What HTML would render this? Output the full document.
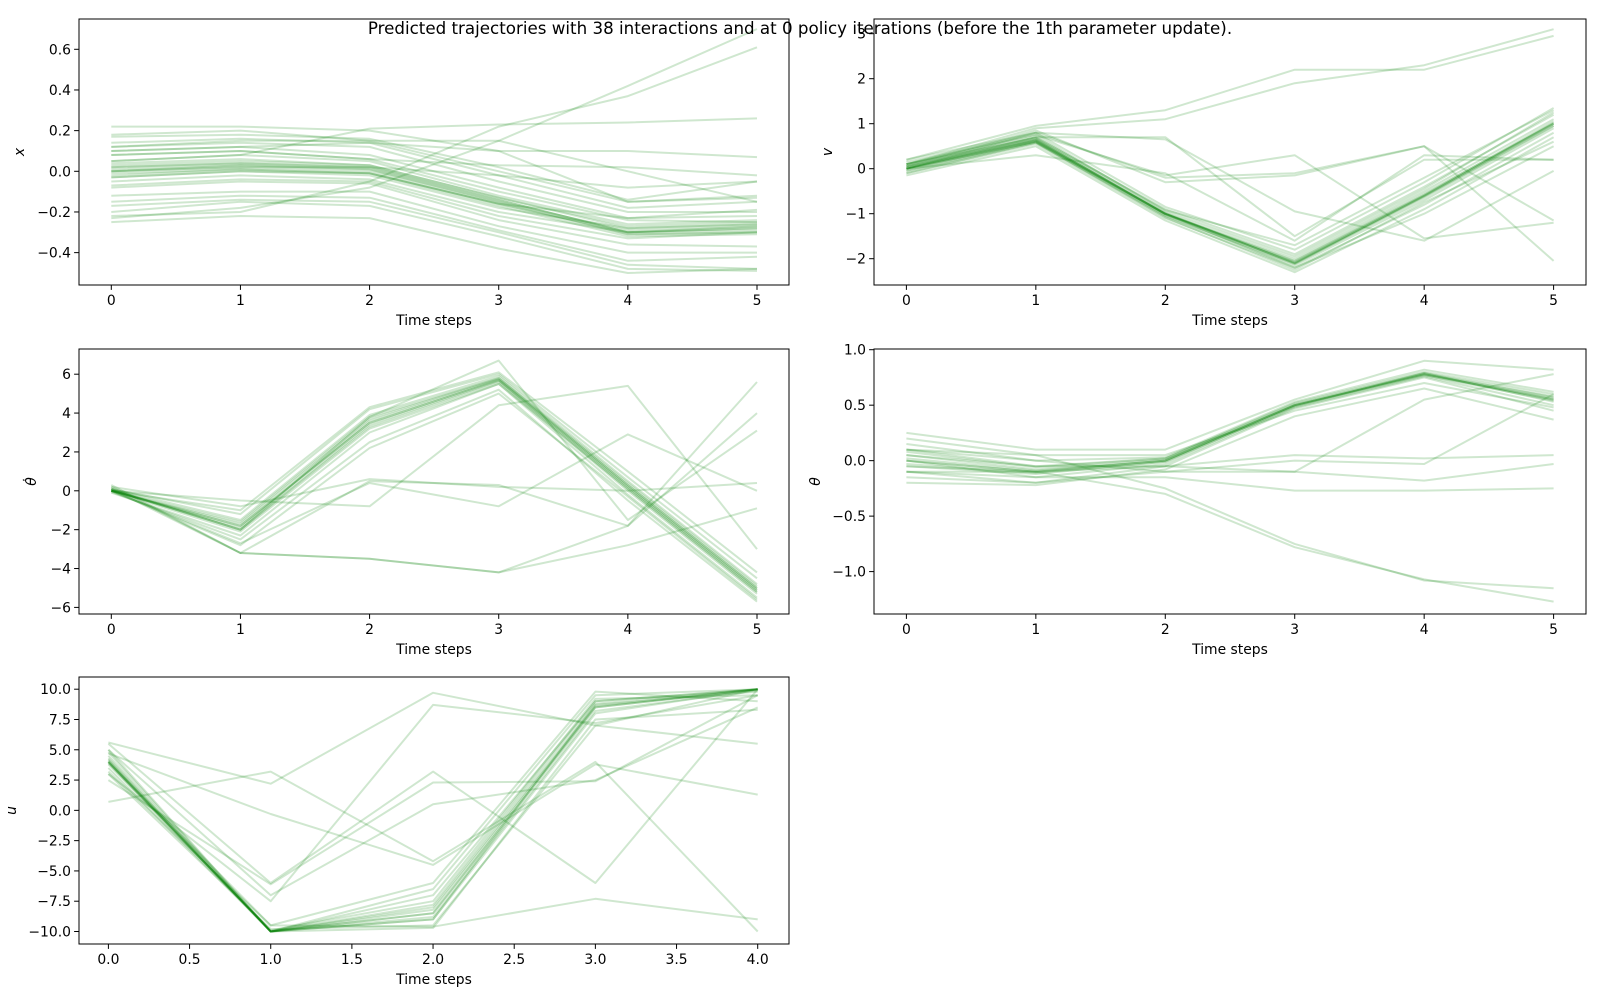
<!DOCTYPE html>
<html><head><meta charset="utf-8"><style>
html,body{margin:0;padding:0;background:#fff;}
svg{display:block;font-family:"DejaVu Sans","Liberation Sans",sans-serif;}
</style></head><body>
<svg id="fig" width="1600" height="1000" viewBox="0 0 1600 1000" xmlns="http://www.w3.org/2000/svg">
<rect width="1600" height="1000" fill="#fff"/>
</svg>
<script>
const stepsA = [0,1,2,3,4,5];
const stepsU = [0,1,2,3,4];
const ticksX5 = [0,1,2,3,4,5];
const ticksXU = [0.0,0.5,1.0,1.5,2.0,2.5,3.0,3.5,4.0];
const ticksXLabel = ["0","1","2","3","4","5"];
const ticksXULabel = ["0.0","0.5","1.0","1.5","2.0","2.5","3.0","3.5","4.0"];
const ticksYx = [-0.4,-0.2,0.0,0.2,0.4,0.6];
const ticksYxLabel = ["\u22120.4","\u22120.2","0.0","0.2","0.4","0.6"];
const ticksYv = [-2,-1,0,1,2,3];
const ticksYvLabel = ["\u22122","\u22121","0","1","2","3"];
const ticksYtd = [-6,-4,-2,0,2,4,6];
const ticksYtdLabel = ["\u22126","\u22124","\u22122","0","2","4","6"];
const ticksYth = [-1.0,-0.5,0.0,0.5,1.0];
const ticksYthLabel = ["\u22121.0","\u22120.5","0.0","0.5","1.0"];
const ticksYu = [-10,-7.5,-5,-2.5,0,2.5,5,7.5,10];
const ticksYuLabel = ["\u221210.0","\u22127.5","\u22125.0","\u22122.5","0.0","2.5","5.0","7.5","10.0"];

const seriesX = [
[0.22,0.22,0.2,0.1,-0.15,-0.12],[0.18,0.2,0.15,0.0,-0.15,-0.13],[0.17,0.18,0.16,0.02,-0.14,-0.05],
[0.14,0.16,0.14,-0.02,-0.18,-0.15],[0.12,0.14,0.12,-0.05,-0.2,-0.2],[0.1,0.12,0.08,-0.08,-0.23,-0.22],
[0.08,0.1,0.06,-0.1,-0.24,-0.25],[0.05,0.08,0.05,-0.12,-0.26,-0.24],[0.03,0.05,0.03,-0.13,-0.28,-0.26],
[0.02,0.04,0.02,-0.14,-0.3,-0.28],[0.01,0.03,0.01,-0.15,-0.31,-0.3],[0.0,0.02,0.0,-0.16,-0.3,-0.29],
[-0.01,0.01,-0.01,-0.17,-0.32,-0.31],[-0.03,0,-0.02,-0.18,-0.28,-0.26],[-0.05,-0.02,-0.04,-0.2,-0.3,-0.27],
[-0.07,-0.04,-0.05,-0.22,-0.33,-0.3],[-0.08,-0.05,-0.06,-0.24,-0.36,-0.37],[-0.12,-0.1,-0.1,-0.27,-0.4,-0.4],
[-0.15,-0.12,-0.13,-0.29,-0.44,-0.42],[-0.17,-0.14,-0.15,-0.3,-0.46,-0.48],[-0.2,-0.15,-0.17,-0.32,-0.48,-0.49],
[-0.25,-0.22,-0.23,-0.38,-0.5,-0.48],[-0.23,-0.18,-0.08,0.15,0.42,0.7],[-0.22,-0.2,-0.05,0.22,0.37,0.61],
[0.05,0.08,0.21,0.23,0.24,0.26],[0.1,0.12,0.14,0.1,0.1,0.07],[0.12,0.15,0.15,0.15,0.0,-0.15],
[0.08,0.1,0.06,0.03,0.02,-0.02],[0.0,0.02,0.02,-0.02,-0.08,-0.05],[-0.03,0.0,-0.01,-0.16,-0.23,-0.19],
[0.02,0.04,0.02,-0.14,-0.3,-0.28],[0.0,0.03,0.01,-0.15,-0.29,-0.27],[0.04,0.06,0.03,-0.13,-0.27,-0.25],
[-0.02,0.01,-0.01,-0.16,-0.31,-0.3]
];
const seriesV = [
[0.0,0.6,-1.0,-2.1,-0.6,1.0],[0.1,0.7,-0.9,-1.9,-0.4,1.2],[-0.1,0.55,-1.1,-2.2,-0.8,0.8],
[0.05,0.65,-1.0,-2.0,-0.5,1.1],[-0.05,0.6,-1.05,-2.15,-0.7,0.9],[0.2,0.8,-0.85,-1.8,-0.3,1.35],
[-0.15,0.5,-1.15,-2.3,-0.9,0.7],[0.15,0.75,-0.95,-1.95,-0.45,1.25],[0.0,0.62,-1.02,-2.05,-0.55,1.0],
[-0.1,0.58,-1.08,-2.25,-0.75,0.6],[0.1,0.68,-0.98,-2.1,-0.65,0.95],[0.05,0.7,-0.92,-1.7,-0.2,1.3],
[0.0,0.65,-1.0,-2.2,-1.0,0.5],[0.0,0.6,-1.0,-2.1,-0.6,1.0],[0.05,0.64,-1.0,-2.05,-0.58,1.05],
[-0.05,0.58,-1.05,-2.12,-0.62,0.95],[0.02,0.63,-1.01,-2.08,-0.6,1.02],
[0.1,0.9,1.1,1.9,2.3,3.1],[0.2,0.95,1.3,2.2,2.2,2.95],[0.0,0.8,0.65,-0.95,-1.6,-0.05],
[0.1,0.75,-0.15,0.3,-1.55,-1.2],[0.05,0.85,-0.3,-0.15,0.5,-2.05],[0.0,0.7,0.7,-1.5,0.2,0.2],
[0.1,0.8,-0.2,-0.1,0.5,-1.15],[0.0,0.3,-0.1,-1.6,0.3,0.2]
];
const seriesTD = [
[0,-1.8,3.5,5.7,0.2,-5.1],[0.1,-1.2,4.2,6.0,0.7,-4.5],[-0.1,-2.3,3.0,5.5,-0.2,-5.5],
[0,-1.6,3.8,5.8,0.4,-4.9],[0.05,-2.0,3.3,5.6,0.0,-5.3],[0,-1.0,4.3,6.1,1.0,-4.2],
[-0.05,-2.5,2.5,5.2,-0.5,-5.7],[0,-1.9,3.6,5.75,0.3,-5.0],[0.1,-1.5,3.9,5.9,0.5,-4.8],
[0,-2.1,3.2,5.5,0.1,-5.2],[0,-2.8,2.2,5.0,-0.3,-5.6],[0,-1.8,3.5,5.7,0.2,-5.1],
[0,-1.7,3.7,5.8,0.3,-5.0],[0.05,-2.0,3.4,5.65,0.1,-5.2],
[0.2,-3.2,-3.5,-4.2,-2.8,-0.9],[0.3,-3.2,-3.5,-4.2,-1.8,4.0],[0.1,-3.2,0.5,0.3,-1.8,5.6],
[0.2,-0.8,0.6,0.2,0,0.4],[0,-0.5,-0.8,4.4,5.4,-3.0],[0,-2.7,0.4,-0.8,2.9,0.0],[0.1,-2.0,3.8,6.7,-1.5,3.1]
];
const seriesTH = [
[0.0,-0.1,0.0,0.5,0.78,0.55],[0.1,-0.05,0.02,0.52,0.8,0.6],[-0.1,-0.15,-0.03,0.48,0.76,0.5],
[0.05,-0.08,0.01,0.5,0.77,0.56],[-0.05,-0.12,-0.01,0.49,0.79,0.53],[0.2,0.05,0.05,0.45,0.7,0.48],
[-0.15,-0.2,-0.05,0.47,0.75,0.45],[0.15,0.0,0.03,0.53,0.82,0.62],[0.25,0.1,0.1,0.55,0.9,0.82],
[-0.2,-0.22,-0.08,0.4,0.65,0.37],[0.0,-0.1,0.0,0.5,0.78,0.58],[0.02,-0.09,0.0,0.5,0.78,0.55],
[0.08,-0.06,0.02,0.51,0.79,0.57],[-0.03,-0.11,-0.01,0.49,0.77,0.54],
[0.1,0.05,-0.25,-0.75,-1.08,-1.15],[-0.1,-0.1,-0.3,-0.78,-1.07,-1.27],[0.0,-0.15,-0.15,-0.27,-0.27,-0.25],
[-0.05,-0.1,-0.05,0.05,0.02,0.05],[0.1,0.0,-0.1,-0.1,-0.18,-0.03],[0.05,-0.05,-0.05,-0.1,0.55,0.78],
[-0.1,-0.2,-0.1,0.0,-0.03,0.6]
];
const seriesU = [
[4,-10,-8.5,8.5,10],[4.5,-10,-7,9,10],[3.5,-10,-9,8,10],[4,-10,-8,8.7,9.8],[3,-9.8,-9.5,7,10],
[5,-10,-6.5,9.5,10],[4.2,-10,-8.8,8.2,9.9],[3.8,-9.9,-7.5,9.2,9.5],[4.8,-10,-9.7,7.5,8.3],
[3.2,-9.5,-6,9.8,9],[4,-10,-8.5,8.5,10],[4.1,-10,-9,8.8,10],[3.9,-10,-8.2,8.6,10],[4.3,-10,-7.8,9.0,10],
[5.6,2.2,9.7,7.0,5.5],[0.7,3.2,-4.2,4.0,-10],[5.5,-6.0,3.2,-6.0,10],[3.0,-7.5,8.7,7.2,9.5],
[4.7,-0.3,-4.5,3.8,1.3],[5.0,-7.0,0.5,2.5,8.5],[2.5,-6.1,2.3,2.4,9.5],[4.0,-9.5,-9.6,-7.3,-9.0]
];

const NS="http://www.w3.org/2000/svg";
const fig=document.getElementById('fig');
function mk(tag,attrs,parent){const e=document.createElementNS(NS,tag);for(const k in attrs)e.setAttribute(k,attrs[k]);(parent||fig).appendChild(e);return e;}

function panel(cfg){
  const g=mk('g',{});
  
  
  const xs=v=>cfg.x0+(v-cfg.xa)*(cfg.x1-cfg.x0)/(cfg.xb-cfg.xa);
  const ys=v=>cfg.y0+(v-cfg.ya)*(cfg.y1-cfg.y0)/(cfg.yb-cfg.ya);
  const cp='cp'+cfg.name;
  const cl=mk('clipPath',{id:cp},g);
  mk('rect',{x:cfg.L,y:cfg.T,width:cfg.R-cfg.L,height:cfg.B-cfg.T},cl);
  const lg=mk('g',{'clip-path':'url(#'+cp+')'},g);
  cfg.series.forEach((s)=>{
    const p=mk('polyline',{points:s.map((v,i)=>xs(cfg.steps[i]).toFixed(1)+','+ys(v).toFixed(1)).join(' '),fill:'none',stroke:'#008000','stroke-opacity':0.19,'stroke-width':2,'stroke-linejoin':'round'},lg);
    
    
  });
  const fr=mk('rect',{x:cfg.L,y:cfg.T,width:cfg.R-cfg.L,height:cfg.B-cfg.T,fill:'none',stroke:'#000','stroke-width':1},g);
  
  
  cfg.xt.forEach((v,i)=>{
    const x=xs(v);
    mk('line',{x1:x,x2:x,y1:cfg.B,y2:cfg.B+4.9,stroke:'#000','stroke-width':1},g);
    const t=mk('text',{x:x,y:cfg.B+20,'text-anchor':'middle','font-size':13.9,fill:'#000'},g);
    t.textContent=cfg.xtl[i];
    
    
  });
  cfg.yt.forEach((v,i)=>{
    const y=ys(v);
    mk('line',{x1:cfg.L-4.9,x2:cfg.L,y1:y,y2:y,stroke:'#000','stroke-width':1},g);
    const t=mk('text',{x:cfg.L-8,y:y+5,'text-anchor':'end','font-size':13.9,fill:'#000'},g);
    t.textContent=cfg.ytl[i];
    
    
  });
  const xl=mk('text',{x:(cfg.L+cfg.R)/2,y:cfg.B+40,'text-anchor':'middle','font-size':13.9,fill:'#000'},g);
  xl.textContent='Time steps';
  
  
  const cy=(cfg.T+cfg.B)/2, cx=cfg.ylx;
  const yl=mk('text',{x:cx,y:cy,'text-anchor':'middle','font-size':13.9,'font-style':'italic',fill:'#000',transform:'rotate(-90 '+cx+' '+cy+')'},g);
  yl.textContent=cfg.ylabel;
  
  
}

const C1={L:79,R:789}, C2={L:874,R:1586};
const R1={T:19,B:285}, R2={T:349,B:614}, R3={T:677,B:944};
panel({name:'x-panel',...C1,...R1,x0:111.3,x1:757,xa:0,xb:5,ya:0,yb:0.6,y0:171.3,y1:49.3,steps:stepsA,series:seriesX,xt:ticksX5,xtl:ticksXLabel,yt:ticksYx,ytl:ticksYxLabel,ylabel:'x',ylx:24});
panel({name:'v-panel',...C2,...R1,x0:906.4,x1:1553.6,xa:0,xb:5,ya:3,yb:-2,y0:33.7,y1:258.7,steps:stepsA,series:seriesV,xt:ticksX5,xtl:ticksXLabel,yt:ticksYv,ytl:ticksYvLabel,ylabel:'v',ylx:832});
panel({name:'theta-dot-panel',...C1,...R2,x0:111.3,x1:757,xa:0,xb:5,ya:6,yb:-6,y0:374.2,y1:607.4,steps:stepsA,series:seriesTD,xt:ticksX5,xtl:ticksXLabel,yt:ticksYtd,ytl:ticksYtdLabel,ylabel:'\u03B8\u0307',ylx:36});
panel({name:'theta-panel',...C2,...R2,x0:906.4,x1:1553.6,xa:0,xb:5,ya:1,yb:-1,y0:349.7,y1:571.6,steps:stepsA,series:seriesTH,xt:ticksX5,xtl:ticksXLabel,yt:ticksYth,ytl:ticksYthLabel,ylabel:'\u03B8',ylx:820});
panel({name:'u-panel',...C1,...R3,x0:108.4,x1:757.7,xa:0,xb:4,ya:10,yb:-10,y0:689.2,y1:931.5,steps:stepsU,series:seriesU,xt:ticksXU,xtl:ticksXULabel,yt:ticksYu,ytl:ticksYuLabel,ylabel:'u',ylx:16});

const title=mk('text',{x:800,y:34,'text-anchor':'middle','font-size':16.7,fill:'#000'});
title.textContent='Predicted trajectories with 38 interactions and at 0 policy iterations (before the 1th parameter update).';


</script>
</body></html>
